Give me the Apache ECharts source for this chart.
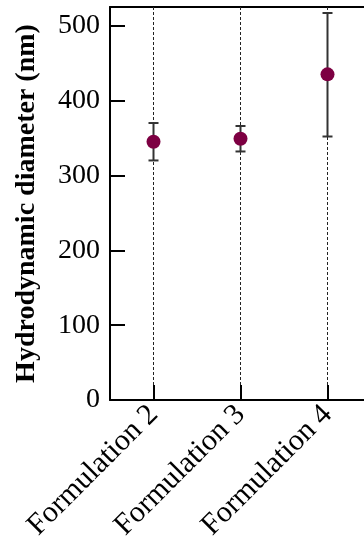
<!DOCTYPE html>
<html>
<head>
<meta charset="utf-8">
<script src="https://cdn.jsdelivr.net/npm/echarts@6/dist/echarts.min.js"></script>
<style>html,body{margin:0;padding:0;background:#fff;}#c{width:364px;height:541px;}</style>
</head>
<body>
<div id="c"></div>
<script>
var categories = ['Formulation 2', 'Formulation 3', 'Formulation 4'];
var means = [345, 349, 435];
var lowers = [320, 332, 352];
var uppers = [370, 366, 517];
var yTicks = [0, 100, 200, 300, 400, 500];
var yMax = 525;

var FONT = '"Liberation Serif", "Times New Roman", serif';
var chart = echarts.init(document.getElementById('c'), null, {renderer: 'canvas'});

var errData = categories.map(function (c, i) { return [i, lowers[i], uppers[i]]; });
var guideData = categories.map(function (c, i) { return [i]; });

chart.setOption({
  animation: false,
  backgroundColor: '#fff',
  grid: {left: 110, top: 7, width: 261, bottom: 141, show: false,
    containLabel: false, outerBoundsMode: 'none'},
  xAxis: [{
    type: 'category',
    data: categories,
    boundaryGap: true,
    axisLine: {show: true, lineStyle: {color: '#000', width: 2}},
    axisTick: {show: true, inside: true, alignWithLabel: true, length: 15, lineStyle: {color: '#000', width: 2}},
    axisLabel: {rotate: 45, fontSize: 30, fontFamily: FONT, color: '#000', margin: 10, interval: 0},
    splitLine: {show: false}
  }, {
    type: 'category',
    data: categories,
    position: 'top',
    axisLine: {show: true, lineStyle: {color: '#000', width: 2}},
    axisTick: {show: false},
    axisLabel: {show: false},
    splitLine: {show: false}
  }],
  yAxis: {
    type: 'value',
    min: 0, max: yMax, interval: 100,
    name: 'Hydrodynamic diameter (nm)',
    nameLocation: 'middle',
    nameGap: 69,
    nameTextStyle: {fontSize: 28, fontWeight: 'bold', fontFamily: FONT, color: '#000'},
    axisLine: {show: true, lineStyle: {color: '#000', width: 2}},
    axisTick: {show: true, inside: true, length: 15, lineStyle: {color: '#000', width: 2}},
    axisLabel: {fontSize: 28, fontFamily: FONT, color: '#000', margin: 10,
      formatter: function (v) { return yTicks.indexOf(v) >= 0 ? String(v) : ''; }},
    splitLine: {show: false}
  },
  series: [
    {
      type: 'custom',
      data: guideData,
      z: 2,
      silent: true,
      renderItem: function (params, api) {
        var x = api.value(0);
        var a = api.coord([x, 0]);
        var b = api.coord([x, yMax]);
        return {type: 'line', shape: {x1: a[0], y1: a[1] - 15, x2: b[0], y2: b[1]},
          style: {stroke: '#222', lineWidth: 1, lineDash: [3, 2]}};
      }
    },
    {
      type: 'custom',
      data: errData,
      z: 3,
      renderItem: function (params, api) {
        var x = api.value(0);
        var lo = api.coord([x, api.value(1)]);
        var hi = api.coord([x, api.value(2)]);
        var hw = 5;
        var st = {stroke: '#333', lineWidth: 2};
        return {
          type: 'group',
          children: [
            {type: 'line', shape: {x1: lo[0], y1: lo[1], x2: hi[0], y2: hi[1]}, style: st},
            {type: 'line', shape: {x1: lo[0] - hw, y1: lo[1], x2: lo[0] + hw, y2: lo[1]}, style: st},
            {type: 'line', shape: {x1: hi[0] - hw, y1: hi[1], x2: hi[0] + hw, y2: hi[1]}, style: st}
          ]
        };
      }
    },
    {
      type: 'scatter',
      data: means,
      z: 4,
      symbol: 'circle',
      symbolSize: 14,
      itemStyle: {color: '#7d0042', opacity: 1}
    }
  ]
});
</script>
</body>
</html>
